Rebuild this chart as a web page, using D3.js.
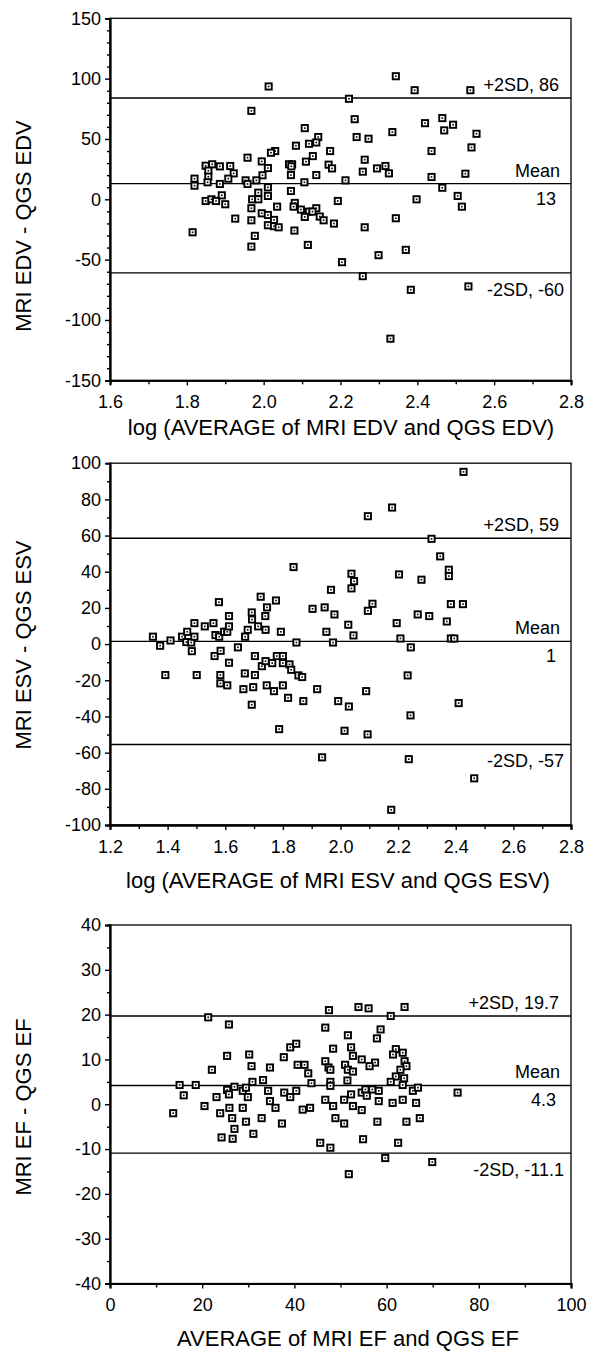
<!DOCTYPE html>
<html><head><meta charset="utf-8">
<script src="https://cdn.jsdelivr.net/npm/d3@7/dist/d3.min.js"></script>
<style>body{margin:0;background:#fff} svg{display:block}</style>
</head><body>
<svg id="c" width="589" height="1351"></svg>
<script>
// ---------- DATA ----------
// Panel 1: EDV
const edvAvg = [2.013,1.968,2.344,2.393,2.538,2.222,2.237,2.242,2.273,2.107,2.420,2.335,2.465,2.470,2.493,2.554,2.541,2.437,2.142,2.137,2.118,2.084,2.030,2.019,2.173,2.128,2.110,2.263,1.958,1.995,2.066,2.074,2.072,2.011,2.169,2.178,2.137,2.071,1.997,2.258,2.295,2.317,2.326,2.525,2.437,2.465,2.213,2.106,1.849,1.866,1.856,1.856,1.854,1.820,1.820,1.886,1.913,1.922,1.908,1.886,1.953,1.958,1.981,2.011,2.071,1.986,2.011,1.891,1.849,1.864,1.876,1.900,1.970,1.986,2.193,2.398,2.505,2.516,1.968,2.035,2.081,2.078,2.097,2.118,2.137,2.107,2.127,2.146,2.156,2.183,1.995,2.011,2.027,2.011,2.027,2.039,1.968,1.926,1.815,2.080,1.977,1.968,2.115,2.263,2.344,2.370,2.299,2.204,2.258,2.383,2.533,2.330];
const edvDiff = [93.5,73.3,102,90.4,90.4,83.3,66.4,51.6,50.2,59,63.1,55.7,67.3,57.1,61.8,54.3,43,40,51.6,47.1,46,44.4,40,38.6,40,35.8,31.2,32.8,34.5,31.4,29,29,27.3,25.9,28.7,25.6,20.1,20.1,19.9,22.9,25.6,27.6,21.5,21.2,18.5,9.6,15.7,14.1,27.8,29,23.7,18.7,14.1,17.1,11.3,27.3,27.6,21.5,17.1,12.7,15.7,12.7,15.7,9.9,6.9,5.5,2.8,3.3,-1.4,0,-1.4,-4.1,0,0,-1.4,0,2.8,-6.1,-7.4,-6.1,-3,-6.1,-8.5,-10.2,-7.4,-14.6,-10.2,-14.3,-17.4,-20.1,-11.6,-13,-17.1,-21.5,-22.3,-23.2,-17.4,-16,-27.3,-25.9,-30.3,-39.2,-37.8,-23.2,-15.7,-41.9,-46.3,-52.1,-63.7,-75,-72.2,-115.5];
const edvXTicks = [1.6,1.8,2.0,2.2,2.4,2.6,2.8];
const edvXTickLabels = ["1.6","1.8","2.0","2.2","2.4","2.6","2.8"];
const edvXMinor = [1.7,1.9,2.1,2.3,2.5,2.7];
const edvYTicks = [-150,-100,-50,0,50,100,150];
const edvYTickLabels = ["-150","-100","-50","0","50","100","150"];
const edvYMinor = [-140,-130,-120,-110,-90,-80,-70,-60,-40,-30,-20,-10,10,20,30,40,60,70,80,90,110,120,130,140];
const edvLines = [84, 13, -61];
const edvLineLabels = ["+2SD, 86", "Mean", "-2SD, -60"];
const edvMeanValue = "13";
const edvXTitle = "log (AVERAGE of MRI EDV and QGS EDV)";
const edvYTitle = "MRI EDV - QGS EDV";

// Panel 2: ESV
const esvAvg = [2.427,2.179,2.095,2.316,2.346,1.837,2.038,2.203,2.376,2.376,2.047,2.038,2.281,1.967,2.383,2.425,2.111,2.095,2.268,2.308,2.369,2.195,2.027,1.945,1.903,1.979,1.951,2.045,2.208,2.383,2.395,1.974,1.847,2.244,2.233,2.410,2.243,2.237,2.464,2.176,1.936,2.094,2.014,1.787,2.089,1.992,2.029,1.919,1.871,1.818,1.800,1.769,1.744,1.692,1.697,1.663,1.607,1.583,1.583,1.392,1.501,1.668,1.703,1.727,1.740,1.763,1.779,1.800,1.800,1.823,1.829,1.854,1.867,1.703,1.613,1.563,1.584,1.644,1.484,1.374,1.349,1.410,1.450,1.468,1.465,1.482,1.493,1.493,1.529,1.559,1.566,1.579,1.596,1.607,1.613,1.613,1.578,1.669,1.678,1.692,1.693,1.714,1.723,1.739,1.745,1.740,1.776,1.793];
const esvDiff = [95.2,75.5,70.7,58.2,48.5,42.6,38.9,38.5,41.1,37.6,34.8,30.8,35.6,30,22.1,22.1,22.3,18.4,16.4,15.5,12.5,11.6,10.7,20.3,19.5,16.4,6.8,4.8,3.1,3.1,3.1,0.9,0.9,-1.8,-17.3,-32.6,-39.4,-63.6,-74.2,-91.6,-62.6,-49.9,-47.9,-47,-26,-31.5,-34.5,-24.9,-31.5,-29.7,-22.8,-26,-22.8,-33.5,-23.8,-24.9,-22.8,-21.7,-17.1,-17.1,-17.1,-16.2,-17.1,-12.2,-9.4,-10.5,-6.6,-6.6,-10.5,-11.2,-14.2,-17.3,-18.2,-6.6,-10.3,-6.6,-3.7,-1.8,-3.9,-0.9,4.1,2,4.1,6.8,1.1,0.9,4.1,11.6,9.8,11.6,5,4.1,6.8,6.8,9.8,15.5,23.2,4.1,7.9,17.5,13.6,9.8,26.2,15.5,20.3,7.9,24.1,6.8];
const esvXTicks = [1.2,1.4,1.6,1.8,2.0,2.2,2.4,2.6,2.8];
const esvXTickLabels = ["1.2","1.4","1.6","1.8","2.0","2.2","2.4","2.6","2.8"];
const esvXMinor = [1.3,1.5,1.7,1.9,2.1,2.3,2.5,2.7];
const esvYTicks = [-100,-80,-60,-40,-20,0,20,40,60,80,100];
const esvYTickLabels = ["-100","-80","-60","-40","-20","0","20","40","60","80","100"];
const esvYMinor = [-90,-70,-50,-30,-10,10,30,50,70,90];
const esvLines = [58.5, 1.5, -55.5];
const esvLineLabels = ["+2SD, 59", "Mean", "-2SD, -57"];
const esvMeanValue = "1";
const esvXTitle = "log (AVERAGE of MRI ESV and QGS ESV)";
const esvYTitle = "MRI ESV - QGS ESV";

// Panel 3: EF
const efAvg = [21.3,25.8,47.5,53.9,56.1,63.9,60.9,46.7,58.7,57.9,51.6,52.3,48.4,39.1,40.4,62,63.5,61.4,63.9,64.3,52.7,54.6,57.5,56.3,46.7,47.4,47.8,51,51.6,52.7,63,62,63.8,60.9,63.5,51.5,47.8,47.8,43.7,43,40.7,42.2,37.7,34.7,30.7,30.2,25.4,22.1,30.9,33.2,15.1,18.6,16,13.7,20.5,23.1,25.4,25.8,27,28.8,29.5,29.9,23.9,25.9,26.5,28.8,27,24.2,26.6,29.5,31.1,32.9,34.3,34.7,35.9,37.3,37.8,39.1,40.4,41.8,43.4,45.6,47.8,46.7,48.4,48.9,50.8,50.8,52.3,52.7,54.6,54.6,54.9,55.4,55.7,56.9,58.3,58.3,58,61.3,63.5,66.4,65.7,66.8,64.3,67.2,62.5,59.7,69.9,51.8,75.4];
const efDiff = [19.4,17.8,21,21.7,21.4,21.7,19.7,17.1,16.7,14.7,15.4,12.7,12.4,12.7,13.5,12.3,11.5,11.1,9.6,8.5,10.8,10,9.3,8.5,9.6,8.2,7.7,8.8,7.7,7.3,7.7,6.2,5.8,5,4.3,5.3,5,4.1,4.7,6.9,8.8,8.8,10.5,8.2,8.5,11.1,10.8,7.7,5,5.4,4.3,4.3,2,-2,-0.4,1.6,3.2,2.2,3.9,3,3.7,1.6,-2,-0.8,-3.1,-0.8,-5.5,-7.4,-7.7,-3.9,-6.6,-3.1,3,0.7,-0.8,-4.3,2.6,1.6,3,-1.2,-0.8,-8.6,-9.7,1,-0.4,-3.1,-4.3,1,2.2,-0.4,2.6,-1.3,-7.8,3.3,1.9,3.3,3,0.7,-3.9,0.3,1,0.3,3,3.7,-3.9,-3.1,-8.6,-12,-12.9,-15.6,2.6];
const efXTicks = [0,20,40,60,80,100];
const efXTickLabels = ["0","20","40","60","80","100"];
const efXMinor = [10,30,50,70,90];
const efYTicks = [-40,-30,-20,-10,0,10,20,30,40];
const efYTickLabels = ["-40","-30","-20","-10","0","10","20","30","40"];
const efYMinor = [-35,-25,-15,-5,5,15,25,35];
const efLines = [19.7, 4.2, -10.9];
const efLineLabels = ["+2SD, 19.7", "Mean", "-2SD, -11.1"];
const efMeanValue = "4.3";
const efXTitle = "AVERAGE of MRI EF and QGS EF";
const efYTitle = "MRI EF - QGS EF";

// ---------- LAYOUT ----------
const FONT = "'Liberation Sans', Arial, sans-serif";
const L = 110, R = 571;
const panels = [
  {top:18.3, bottom:380.3, xAvg:edvAvg, yDiff:edvDiff, xT:edvXTicks, xTL:edvXTickLabels, xM:edvXMinor, yT:edvYTicks, yTL:edvYTickLabels, yM:edvYMinor, lines:edvLines, lineLabels:edvLineLabels, meanVal:edvMeanValue, xTitle:edvXTitle, yTitle:edvYTitle, titleDy:55, yTitleC:226, xTitleC:341},
  {top:463.2, bottom:825, xAvg:esvAvg, yDiff:esvDiff, xT:esvXTicks, xTL:esvXTickLabels, xM:esvXMinor, yT:esvYTicks, yTL:esvYTickLabels, yM:esvYMinor, lines:esvLines, lineLabels:esvLineLabels, meanVal:esvMeanValue, xTitle:esvXTitle, yTitle:esvYTitle, titleDy:63, yTitleC:645, xTitleC:338},
  {top:925, bottom:1283.5, xAvg:efAvg, yDiff:efDiff, xT:efXTicks, xTL:efXTickLabels, xM:efXMinor, yT:efYTicks, yTL:efYTickLabels, yM:efYMinor, lines:efLines, lineLabels:efLineLabels, meanVal:efMeanValue, xTitle:efXTitle, yTitle:efYTitle, titleDy:62, yTitleC:1107, xTitleC:348}
];

const svg = d3.select("#c");

panels.forEach(p => {
  const x = d3.scaleLinear().domain(d3.extent(p.xT)).range([L, R]);
  const y = d3.scaleLinear().domain(d3.extent(p.yT)).range([p.bottom, p.top]);
  const g = svg.append("g");

  g.append("rect").attr("x", L).attr("y", p.top).attr("width", R - L).attr("height", p.bottom - p.top)
    .attr("fill", "none").attr("stroke", "#000").attr("stroke-width", 1.3);

  const xa = g.append("g").attr("transform", `translate(0,${p.bottom})`)
    .call(d3.axisBottom(x).tickValues(p.xT).tickSize(5).tickPadding(10).tickFormat((d, i) => p.xTL[i]));
  const xm = g.append("g").attr("transform", `translate(0,${p.bottom})`)
    .call(d3.axisBottom(x).tickValues(p.xM).tickSize(4).tickFormat(""));
  const ya = g.append("g").attr("transform", `translate(${L},0)`)
    .call(d3.axisLeft(y).tickValues(p.yT).tickSize(5).tickPadding(4).tickFormat((d, i) => p.yTL[i]));
  const ym = g.append("g").attr("transform", `translate(${L},0)`)
    .call(d3.axisLeft(y).tickValues(p.yM).tickSize(3).tickFormat(""));
  [xa, xm, ya, ym].forEach(a => {
    a.selectAll("path.domain").attr("stroke", "#000").attr("stroke-width", 1.8);
    a.selectAll(".tick line").attr("stroke", "#000").attr("stroke-width", 1.4);
    a.selectAll("text").attr("font-family", FONT).attr("font-size", 18).attr("fill", "#000");
  });

  g.selectAll("line.ref").data(p.lines).enter().append("line").attr("class", "ref")
    .attr("x1", L).attr("x2", R).attr("y1", d => y(d)).attr("y2", d => y(d))
    .attr("stroke", "#000").attr("stroke-width", 1.4);

  const lab = (t, xx, yy) => g.append("text").attr("x", xx).attr("y", yy).attr("text-anchor", "end")
    .attr("font-family", FONT).attr("font-size", 18).attr("fill", "#000").text(t);
  lab(p.lineLabels[0], R - 12, y(p.lines[0]) - 7);
  lab(p.lineLabels[1], R - 11, y(p.lines[1]) - 7);
  lab(p.meanVal, R - 15, y(p.lines[1]) + 21);
  lab(p.lineLabels[2], R - 7, y(p.lines[2]) + 23);

  const pts = p.xAvg.map((v, i) => [v, p.yDiff[i]]);
  const pg = g.selectAll("g.pt").data(pts).enter().append("g").attr("class", "pt")
    .attr("transform", d => `translate(${x(d[0])},${y(d[1])})`);
  pg.append("rect").attr("x", -3.1).attr("y", -3.1).attr("width", 6.2).attr("height", 6.2)
    .attr("fill", "#fff").attr("stroke", "#000").attr("stroke-width", 1.9);
  pg.append("rect").attr("x", -0.8).attr("y", -0.8).attr("width", 1.6).attr("height", 1.6).attr("fill", "#000");

  g.append("text").attr("x", p.xTitleC).attr("y", p.bottom + p.titleDy).attr("text-anchor", "middle")
    .attr("font-family", FONT).attr("font-size", 22).attr("fill", "#000").text(p.xTitle);
  g.append("text").attr("transform", `translate(31,${p.yTitleC}) rotate(-90)`).attr("text-anchor", "middle")
    .attr("font-family", FONT).attr("font-size", 22).attr("fill", "#000").text(p.yTitle);
});
</script>
</body></html>
